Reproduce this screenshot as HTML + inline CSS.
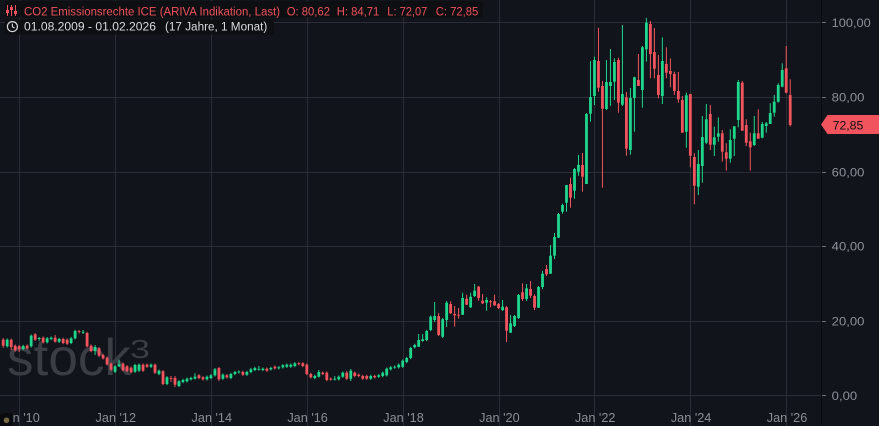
<!DOCTYPE html>
<html>
<head>
<meta charset="utf-8">
<style>
html,body{margin:0;padding:0;background:#11141a;}
body{width:879px;height:426px;overflow:hidden;}
svg{display:block;}
text{font-family:"Liberation Sans","DejaVu Sans",sans-serif;}
</style>
</head>
<body>
<svg id="chart" width="879" height="426" viewBox="0 0 879 426" xmlns="http://www.w3.org/2000/svg">
  <rect x="0" y="0" width="879" height="426" fill="#11141a"/>
  <!-- grid -->
  <g stroke="#2a2d35" stroke-width="1" shape-rendering="crispEdges">
    <line x1="0" y1="22.5" x2="821" y2="22.5"/>
    <line x1="0" y1="97.5" x2="821" y2="97.5"/>
    <line x1="0" y1="172.5" x2="821" y2="172.5"/>
    <line x1="0" y1="246.5" x2="821" y2="246.5"/>
    <line x1="0" y1="321.5" x2="821" y2="321.5"/>
    <line x1="0" y1="395.5" x2="821" y2="395.5"/>
    <line x1="19.5" y1="0" x2="19.5" y2="426"/>
    <line x1="115.5" y1="0" x2="115.5" y2="426"/>
    <line x1="211.5" y1="0" x2="211.5" y2="426"/>
    <line x1="307.5" y1="0" x2="307.5" y2="426"/>
    <line x1="403.5" y1="0" x2="403.5" y2="426"/>
    <line x1="499.5" y1="0" x2="499.5" y2="426"/>
    <line x1="594.5" y1="0" x2="594.5" y2="426"/>
    <line x1="690.5" y1="0" x2="690.5" y2="426"/>
    <line x1="786.5" y1="0" x2="786.5" y2="426"/>
  </g>
  <!-- watermark -->
  <g fill="#3a3d44">
    <text x="7" y="375" font-size="52" textLength="124" lengthAdjust="spacingAndGlyphs">stock</text>
    <text x="130" y="358" font-size="26" textLength="20" lengthAdjust="spacingAndGlyphs">3</text>
  </g>
  <!-- candles -->
  <g id="candles" shape-rendering="geometricPrecision"></g>
  <!-- right axis -->
  <line x1="821.5" y1="0" x2="821.5" y2="426" stroke="#090a0d" stroke-width="1"/>
  <g stroke="#6b6e75" stroke-width="1" shape-rendering="crispEdges">
    <line x1="822" y1="22.5" x2="826" y2="22.5"/>
    <line x1="822" y1="97.5" x2="826" y2="97.5"/>
    <line x1="822" y1="172.5" x2="826" y2="172.5"/>
    <line x1="822" y1="246.5" x2="826" y2="246.5"/>
    <line x1="822" y1="321.5" x2="826" y2="321.5"/>
    <line x1="822" y1="395.5" x2="826" y2="395.5"/>
  </g>
  <g fill="#8d9098" font-size="12">
    <text x="831.7" y="27" textLength="39" lengthAdjust="spacingAndGlyphs">100,00</text>
    <text x="831.7" y="101.6" textLength="32.7" lengthAdjust="spacingAndGlyphs">80,00</text>
    <text x="831.7" y="176.3" textLength="32.7" lengthAdjust="spacingAndGlyphs">60,00</text>
    <text x="831.7" y="250.6" textLength="32.7" lengthAdjust="spacingAndGlyphs">40,00</text>
    <text x="831.7" y="325.3" textLength="32.7" lengthAdjust="spacingAndGlyphs">20,00</text>
    <text x="831.7" y="400" textLength="25.5" lengthAdjust="spacingAndGlyphs">0,00</text>
  </g>
  <!-- price tag -->
  <path d="M821,124.5 L827.5,115 L879,115 L879,134 L827.5,134 Z" fill="#f2545e"/>
  <text x="832.7" y="129.3" font-size="12" fill="#0e0f12" textLength="30.6" lengthAdjust="spacingAndGlyphs">72,85</text>
  <!-- x labels -->
  <g fill="#8b8e95" font-size="12.5" text-anchor="middle">
    <text x="19.5" y="422" textLength="40.5" lengthAdjust="spacingAndGlyphs">Jan '10</text>
    <text x="115.8" y="422" textLength="40.5" lengthAdjust="spacingAndGlyphs">Jan '12</text>
    <text x="211.8" y="422" textLength="40.5" lengthAdjust="spacingAndGlyphs">Jan '14</text>
    <text x="307.6" y="422" textLength="40.5" lengthAdjust="spacingAndGlyphs">Jan '16</text>
    <text x="403.5" y="422" textLength="40.5" lengthAdjust="spacingAndGlyphs">Jan '18</text>
    <text x="499.4" y="422" textLength="40.5" lengthAdjust="spacingAndGlyphs">Jan '20</text>
    <text x="595.2" y="422" textLength="40.5" lengthAdjust="spacingAndGlyphs">Jan '22</text>
    <text x="691.1" y="422" textLength="40.5" lengthAdjust="spacingAndGlyphs">Jan '24</text>
    <text x="787" y="422" textLength="40.5" lengthAdjust="spacingAndGlyphs">Jan '26</text>
  </g>
  <!-- bottom-left badge -->
  <rect x="0" y="413" width="13" height="14" rx="3" fill="#0a0b0e"/>
  <circle cx="6.5" cy="420.3" r="2.8" fill="#7a6843"/>
  <!-- header -->
  <rect x="5" y="1" width="478" height="16.5" fill="#0d0f13"/>
  <rect x="5" y="19.5" width="269" height="15" fill="#0d0f13"/>
  <g stroke="#f0525b" stroke-width="1" fill="none">
    <line x1="7.5" y1="5" x2="7.5" y2="16"/>
    <line x1="11.5" y1="5" x2="11.5" y2="16"/>
    <line x1="15.5" y1="5" x2="15.5" y2="16"/>
  </g>
  <g fill="#f0525b">
    <rect x="6" y="10" width="3" height="3"/>
    <rect x="10" y="7" width="3" height="3"/>
    <rect x="14" y="11" width="3" height="3"/>
  </g>
  <g fill="#f0525b" font-size="11.5">
    <text x="24" y="15.3" textLength="256" lengthAdjust="spacingAndGlyphs">CO2 Emissionsrechte ICE (ARIVA Indikation, Last)</text>
    <text x="286.7" y="15.3" textLength="43.3" lengthAdjust="spacingAndGlyphs">O: 80,62</text>
    <text x="336.7" y="15.3" textLength="42.6" lengthAdjust="spacingAndGlyphs">H: 84,71</text>
    <text x="387.3" y="15.3" textLength="40" lengthAdjust="spacingAndGlyphs">L: 72,07</text>
    <text x="435.7" y="15.3" textLength="42.6" lengthAdjust="spacingAndGlyphs">C: 72,85</text>
  </g>
  <circle cx="12.4" cy="26.6" r="5" fill="none" stroke="#d8dade" stroke-width="1.2"/>
  <path d="M12.4,23.6 L12.4,26.8 L14.6,28" fill="none" stroke="#d8dade" stroke-width="1.1"/>
  <g fill="#d8dade" font-size="11.5">
    <text x="24" y="30.7" textLength="132" lengthAdjust="spacingAndGlyphs">01.08.2009 - 01.02.2026</text>
    <text x="165" y="30.7" textLength="102.3" lengthAdjust="spacingAndGlyphs">(17 Jahre, 1 Monat)</text>
  </g>
</svg>
<script>
(function(){
var G="#1ed68c",R="#f2545e";
var D=[
[339.7,345.7,0,338,347.7],[339.7,346.3,1],[339.7,347,0,338.5,350],[345.7,350.3,0],[346.3,349,0,345,352],
[346,349,1],[345.7,348.3,0],[335.7,346.3,1],[334.3,339.7,0],[338,339,1,337,340.7],
[337.7,342.3,0],[338.3,342.3,1],[337.7,339,1],[337.7,341.7,0,335,342.5],[339,341.7,1],
[339,343,0],[339.7,343.7,0],[338.3,343,1],[331,338.3,1],[331.2,332,0,330,333.5],
[331.8,332.6,1,330,334],[333,346.3,0],[345.7,351,0],[347,351,1,345,355],[348.3,355.7,0],
[355,358.3,0],[357.7,364.3,0],[363.7,369.7,0],[366.3,371.7,1],[364.3,366.3,1,359.7,367],
[363.7,370.3,0],[366.3,371,0],[367.7,372.3,0],[365,371.7,1],[364.7,370.7,1],
[364.7,370.7,0],[364.7,366.7,0],[364.7,366.7,1],[364.7,372.7,0],[370.7,374,1],
[371.3,384,0],[377.3,384,1],[378,378.8,0,376,382],[378,384.7,0,376,387],[381.3,386,1],
[380,382,1],[378.7,381.3,1],[378,379.3,1],[376.7,378.7,1,373.3,379.5],[375.3,378,0],
[377.3,379.3,0],[376.7,379.3,1],[375.3,378,1],[369.3,375.3,1],[368,379.3,0,367,381],
[374.7,378.7,1],[375.3,377.3,0],[374,378,1],[372,374,1],[371.6,372.4,1],
[372,374.7,0],[372,374.7,1],[369.3,372,1],[368,370,1],[368.9,369.7,1,366,370.5],
[368.7,370,1],[368.7,370.7,0],[368,369.3,1],[366.7,368.3,0],[367.3,368.3,1],
[365.3,367.3,1],[364.7,366.7,1],[364.7,366.7,1],[363.3,366,1],[363.3,364.1,0],
[363.3,366,0],[364.7,374,0],[374,377.3,0],[376,378,1],[372,376.7,1,370,377.5],
[372.7,374,0],[372.7,380,0],[378.7,379.5,0],[378.7,379.5,1,376,380.5],[376.7,379.3,1],
[372.7,376.7,1],[372.7,378.7,0,371,380],[370.7,378.7,1,369,381],[372.7,376,0],[374.7,376,0],
[376,378.7,0],[376,378.7,0],[376,378.7,1],[376,377.3,0],[375.3,376.7,1],
[372.7,376,1],[368.7,375.3,1],[367.3,369.3,1],[366.7,367.5,1],[364.7,367.3,1],
[360.7,366.7,1],[358,362,1],[348,358,1],[345,347.3,1],[340,346.7,1,334,347],
[339.3,341,1,334,341.7],[331,340,1],[316.7,330,1],[316,320,1,302,322],[316,335,0,313,336],
[319.3,336.7,1,318,338],[302.7,320,1,301,327],[304,313.3,0,301.3,314],[314,315.3,0,306,326.7],[314.7,315.5,0,308,318.7],
[298,314.7,1,292.7,315],[298.7,304.7,0,294.7,305],[296.7,307.3,1,292.7,308],[290.7,296,1,284,297],[286.7,298,0,286,300.7],
[300.7,303.3,0,294,304],[300,302.7,1,297.3,310.7],[301.3,302.1,0,300,307.3],[301.3,305.3,0,294.7,306],[304,308,0,303,309],
[306.7,310,1,300,311],[307.3,330.7,0,306,342],[323.3,332.7,1,315,333],[316,326,1,315,327],[295,318,1,294,319],
[292.3,299,0,283.3,301],[288.3,299,1,284,301],[289,295.7,0,281,298],[296,307.7,0,294.3,310],[287,307.7,1,286,308],
[273.7,287,1,271,289],[269,274.3,0,265,276],[255.7,273.7,1,245,274],[237,255.7,1,233,259],[214,237.7,1,213,238],
[205,211.7,1,203.7,213.7],[185,202.7,1,185,211.7],[184,197.7,0,177.7,207.7],[169,190.7,1,168,198.7],[165,171.7,1,155,175.7],
[165,176.7,0,153,191.7],[114,184,1,113,184],[97,113.7,1,61,121.7],[60,96,1,56.7,105],[61,87.7,0,27.7,91.7],
[86,108.7,0,81,187.7],[82,109,1,60,110],[82,86,1,49,105.7],[62,81.7,1,58.3,100],[60,102.7,0,57.7,112.7],
[94,104.7,1,25,106],[97.3,148.7,0,92,155.7],[98,150,1,88,154.7],[77.3,98,1,76.7,131.7],[80,86,0,54,86],
[47.3,90,1,46,107.7],[22.7,49.3,1,18,61.7],[24,54,0,21,78.3],[52,68.7,0,28,78.3],[75,95,0,55,98.3],
[61,96,1,37.3,104],[64,72.7,0,47.3,78.3],[71,74,0,58.3,87.3],[74,91,0,71.7,95],[91,99.3,0,72,102.7],
[100,132.7,0,96,132.7],[95.3,131.7,1,92.7,147.7],[94,155.7,0,94,167.3],[157,185.7,0,153.3,204.3],[164,186.7,1,150,195],
[137,166,1,116,182.7],[119.3,142.7,1,104,144],[114,144.7,0,105,150],[137.3,144.7,1,126.7,156],[133.3,136.7,1,117.3,141.7],
[133.3,151.7,0,130,161.7],[152.3,158.7,0,143.3,170.7],[140,158.7,1,129.3,162.7],[126.3,138.7,1,126.3,156],[82,120,1,80,127.3],
[82.7,130.7,0,81,130.7],[125,142.7,0,119.3,146],[141.3,147.3,0,132.7,170.7],[133.3,145,1,116,146],[133.3,138.7,0,109.3,138.7],
[124,137.7,1,122,138.3],[123.3,126,1,122,132.7],[113,124,1,103.3,124],[101.7,112.7,1,95,116.7],[85,101.7,1,83.3,102.7],
[70,86.7,1,63.3,87.3],[68.3,92.7,0,46,93.3],[95,125,0,79.3,126.5]
];
var h="";
for(var j=0;j<D.length;j++){
  var d=D[j],x=3.2+3.995*j,t=d[0],b=d[1],c=d[2]?G:R;
  var wt=(d.length>3)?d[3]:t-1.2, wb=(d.length>4)?d[4]:b+1.2;
  if(b-t<0.9){b=t+0.9;}
  h+='<rect x="'+(x-0.5).toFixed(2)+'" y="'+wt+'" width="1" height="'+(wb-wt).toFixed(2)+'" fill="'+c+'"/>';
  h+='<rect x="'+(x-1.4).toFixed(2)+'" y="'+t+'" width="2.8" height="'+(b-t).toFixed(2)+'" fill="'+c+'"/>';
}
document.getElementById("candles").innerHTML=h;
})();
</script>
</body>
</html>
